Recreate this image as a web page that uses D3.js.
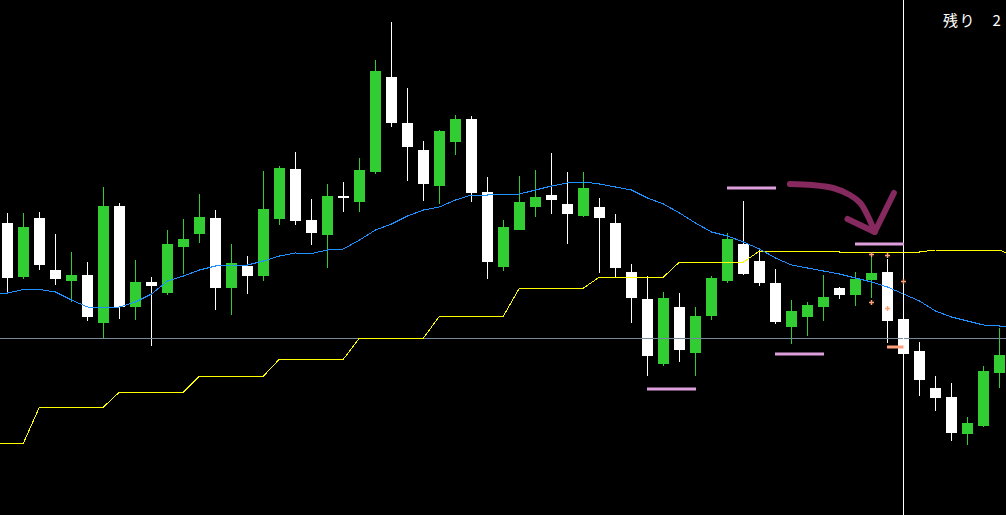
<!DOCTYPE html>
<html>
<head>
<meta charset="utf-8">
<script src="https://cdn.jsdelivr.net/npm/d3@7"></script>
<style>
  html, body { margin: 0; padding: 0; background: #000; }
  svg { display: block; }
</style>
</head>
<body>
<svg id="chart" width="1006" height="515"></svg>
<script>
// ---- Data (arbitrary price units) ----
const opens  = [292,238,297,245,234,240,192,309,208,233,222,268,281,297,227,249,239,296,346,295,280,319,313,343,438,392,365,329,373,396,323,248,285,308,320,311,299,308,292,243,216,151,208,162,199,234,271,254,232,188,198,208,227,220,235,243,196,164,127,118,81,89,142];
const highs  = [302,302,303,281,263,253,328,312,255,238,285,296,321,305,271,259,344,349,363,316,331,333,357,455,493,427,374,385,400,399,338,295,339,345,362,343,343,317,301,251,239,223,222,208,239,282,314,265,246,215,213,240,228,243,258,256,203,173,139,132,98,149,187];
const lows   = [223,236,245,230,213,194,177,196,195,169,220,241,272,205,200,221,234,290,290,270,247,303,303,341,388,334,314,311,360,313,236,244,285,298,301,271,298,242,238,192,139,149,153,139,195,232,240,229,191,171,179,194,216,209,217,172,155,119,104,74,70,88,127];
const closes = [237,288,250,236,240,198,309,208,233,229,271,276,298,227,252,239,306,347,294,282,319,317,345,444,392,368,331,384,396,322,253,288,313,318,315,301,327,297,247,217,159,217,165,199,237,276,241,232,193,204,210,218,220,236,242,194,161,135,117,82,92,144,160];
const movingAvg = [222,225.5,225.5,223,215,208,207,208,213,221,234,239,245,249,250,250,254,259,262,261.5,265,266,275,285,291,299,305,308,315,320,320,320.5,321,325,329,332,333,331,328,325,317,311,302,292,283,279,273,266,257,250,247,244,241,237,233,228,221,214,204,198,194,190,189];
const stepLine  = [72,72,108,108,108,108,108,123,123,123,123,123,139,139,139,139,139,156,156,156,156,156,177,177,177,177,177,199,199,199,199,199,227,227,227,227,227,238,238,238,238,238,253,253,253,253,253,264,264,264,264,264,263,263,263,263,263,263,265,265,265,265,265];
const refLevel = 177;          // horizontal grey level
const cursorIndex = 56;        // vertical cursor candle
// pink level markers: [fromIndex, toIndex, price]
const pinkStart = [45, 53, 48, 40];
const pinkEnd   = [48, 56, 51, 43];
const pinkPrice = [327, 271, 161, 126];
// orange crosses: index, price
const crossIndex = [54, 55, 54, 55, 56];
const crossPrice = [261, 260, 213, 207, 234];
// salmon bar
const salmonStart = 55, salmonEnd = 56, salmonPrice = 168;
// hand drawn arrow (index, price)
const arrowIdx   = [48.9, 50.3, 51.6, 52.65, 53.3, 53.8, 54.2];
const arrowPrice = [331, 330, 327, 320, 312, 298, 283];
const barbIdx    = [52.5, 54.2, 55.4];
const barbPrice  = [296, 283, 322];
const label = "残り　2";

// ---- Scales ----
const W = 1006, H = 515;
const svg = d3.select("#chart");
const x = d3.scaleLinear().domain([0, 62]).range([7.5, 999.5]);
const y = d3.scaleLinear().domain([0, 515]).range([515, 0]);

const GREEN = "#32CD32", WHITE = "#FFFFFF";
const candles = opens.map((o, i) => ({ i, o, h: highs[i], l: lows[i], c: closes[i] }));

svg.append("rect").attr("width", W).attr("height", H).attr("fill", "#000");

// candles
const g = svg.append("g").attr("shape-rendering", "crispEdges");
g.selectAll("line.wick").data(candles).enter().append("line")
  .attr("x1", d => x(d.i)).attr("x2", d => x(d.i))
  .attr("y1", d => y(d.h)).attr("y2", d => y(d.l))
  .attr("stroke", d => d.c >= d.o ? GREEN : WHITE).attr("stroke-width", 1);
g.selectAll("rect.body").data(candles).enter().append("rect")
  .attr("x", d => x(d.i) - 5.5).attr("width", 11)
  .attr("y", d => y(Math.max(d.o, d.c)))
  .attr("height", d => Math.max(2, y(Math.min(d.o, d.c)) - y(Math.max(d.o, d.c))))
  .attr("fill", d => d.c >= d.o ? GREEN : WHITE);

// grey level
svg.append("line").attr("x1", 0).attr("x2", W)
  .attr("y1", Math.round(y(refLevel)) + 0.5).attr("y2", Math.round(y(refLevel)) + 0.5)
  .attr("stroke", "#778899").attr("stroke-width", 1);

// lines extended flat to the chart edges
const leftIdx = x.invert(0), rightIdx = x.invert(W);
function extended(arr, lastExtra) {
  const pts = arr.map((v, i) => [i, v]);
  pts.unshift([leftIdx, arr[0]]);
  pts.push([rightIdx, lastExtra !== undefined ? lastExtra : arr[arr.length - 1]]);
  return pts;
}
const lineGen = d3.line().x(d => x(d[0])).y(d => y(d[1]));
svg.append("path").datum(extended(stepLine, 262)).attr("d", lineGen)
  .attr("fill", "none").attr("stroke", "#FFFF00").attr("stroke-width", 1)
  .attr("shape-rendering", "crispEdges");
svg.append("path").datum(extended(movingAvg)).attr("d", lineGen)
  .attr("fill", "none").attr("stroke", "#1E90FF").attr("stroke-width", 1)
  .attr("shape-rendering", "crispEdges");

// vertical cursor
svg.append("line").attr("x1", x(cursorIndex)).attr("x2", x(cursorIndex))
  .attr("y1", 0).attr("y2", H).attr("stroke", "#FFFFFF").attr("stroke-width", 1)
  .attr("shape-rendering", "crispEdges");

// pink markers
pinkPrice.forEach((p, k) => {
  svg.append("line").attr("x1", x(pinkStart[k]) - 0.5).attr("x2", x(pinkEnd[k]) + 0.5)
    .attr("y1", y(p)).attr("y2", y(p)).attr("stroke", "#DDA0DD").attr("stroke-width", 3);
});
// salmon bar
svg.append("line").attr("x1", x(salmonStart) - 0.5).attr("x2", x(salmonEnd))
  .attr("y1", y(salmonPrice)).attr("y2", y(salmonPrice)).attr("stroke", "#FFA07A").attr("stroke-width", 3);
// crosses
crossPrice.forEach((p, k) => {
  const cx = x(crossIndex[k]), cy = Math.round(y(p)) + 0.5;
  svg.append("line").attr("x1", cx - 2.5).attr("x2", cx + 2.5).attr("y1", cy).attr("y2", cy)
    .attr("stroke", "#FFA07A").attr("stroke-width", 1.5);
  svg.append("line").attr("x1", cx).attr("x2", cx).attr("y1", cy - 2.5).attr("y2", cy + 2.5)
    .attr("stroke", "#FFA07A").attr("stroke-width", 1.5);
});

// hand-drawn arrow
const arrowPts = arrowIdx.map((v, k) => [x(v), y(arrowPrice[k])]);
svg.append("path").attr("d", d3.line().curve(d3.curveCatmullRom)(arrowPts))
  .attr("fill", "none").attr("stroke", "#86295F").attr("stroke-width", 6)
  .attr("stroke-linecap", "round").attr("stroke-linejoin", "round");
const barbPts = barbIdx.map((v, k) => [x(v), y(barbPrice[k])]);
svg.append("path").attr("d", d3.line()(barbPts))
  .attr("fill", "none").attr("stroke", "#86295F").attr("stroke-width", 6)
  .attr("stroke-linecap", "round").attr("stroke-linejoin", "round");

// label
svg.append("text").attr("x", 943).attr("y", 26)
  .attr("fill", "#FFFFFF").attr("font-size", 15).attr("letter-spacing", 1.5)
  .attr("font-family", "'Noto Sans CJK JP', sans-serif")
  .text(label);
</script>
</body>
</html>
